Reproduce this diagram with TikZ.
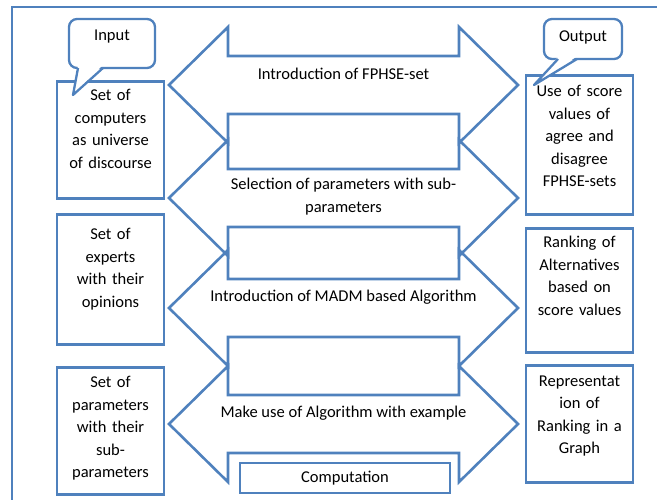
\documentclass[tikz,border=0pt]{standalone}
\usepackage{fontspec}
\setmainfont{Carlito}
\usetikzlibrary{positioning}
\definecolor{frameblue}{HTML}{4F81BD}

\begin{document}
\begin{tikzpicture}[x=1pt,y=-1pt,
    every node/.style={font=\fontsize{16.5pt}{22.5pt}\selectfont},
    outline/.style={draw=frameblue,line width=2.6pt,line join=miter},
    box/.style={outline,minimum width=107pt,anchor=north,inner sep=0pt},
    boxtext/.style={text width=106pt,align=center,anchor=base,inner sep=0pt},
    steptext/.style={align=center,inner sep=0pt},
    tagbox/.style={outline,fill=white,rounded corners=8pt,line width=2.3pt},
    tagline/.style={draw=frameblue,line width=2.3pt,line join=round}]
\useasboundingbox (0,0) rectangle (657,500);
\clip (0,0) rectangle (657,500);
\draw[frameblue,line width=2pt] (12,7) rectangle (700,560);

% double arrows
\foreach \tip in {85,198,308,424}
    \draw[outline] (169,\tip) -- (228,{\tip-58}) -- (228,{\tip-29}) -- (459,{\tip-29})
        -- (459,{\tip-58}) -- (518,\tip) -- (459,{\tip+58}) -- (459,{\tip+29})
        -- (228,{\tip+29}) -- (228,{\tip+58}) -- cycle;

\node[steptext] (step1) at (343.5,74) {Introduction of FPHSE-set};
\node[steptext] (step2) at (343.5,196.5) {Selection of parameters with sub-\\parameters};
\node[steptext] (step3) at (343.5,297) {Introduction of MADM based Algorithm};
\node[steptext] (step4) at (343.5,413) {Make use of Algorithm with example};
\node[outline,fill=white,minimum width=210pt,minimum height=30pt] (comp) at (345,478) {Computation};

% input boxes
\node[box,minimum height=117pt] (in1) at (110.5,80) {};
\node[box,minimum height=130pt] (in2) at (110.5,213) {};
\node[box,minimum height=127pt] (in3) at (110.5,366) {};
\node[boxtext] (in1txt) at ([yshift=-21pt]in1.north) {Set of\\computers\\as universe\\of discourse};
\node[boxtext] (in2txt) at ([yshift=-27pt]in2.north) {Set of\\experts\\with their\\opinions};
\node[boxtext] (in3txt) at ([yshift=-22pt]in3.north) {Set of\\parameters\\with their\\sub-\\parameters};

% output boxes
\node[box,minimum height=139pt] (out1) at (579.5,74) {};
\node[box,minimum height=124pt] (out2) at (579.5,227) {};
\node[box,minimum height=117pt] (out3) at (579.5,364) {};
\node[boxtext] (out1txt) at ([yshift=-23pt]out1.north) {Use of score\\values of\\agree and\\disagree\\FPHSE-sets};
\node[boxtext] (out2txt) at ([yshift=-21pt]out2.north) {Ranking of\\Alternatives\\based on\\score values};
\node[boxtext] (out3txt) at ([yshift=-22pt]out3.north) {Representat\\ion of\\Ranking in a\\Graph};

% callouts
\node[tagbox,minimum width=86pt,minimum height=49pt] (intag) at (112,43.5) {};
\node (intagtxt) at (112,37) {Input};
\fill[white] (78,66) -- (73,95) -- (102,66) -- cycle;
\draw[tagline] (78,68) -- (73,95) -- (103,68);
\node[tagbox,minimum width=78pt,minimum height=40pt] (outtag) at (583,39) {};
\node (outtagtxt) at (583,37) {Output};
\fill[white] (558,57) -- (534,85) -- (576,57) -- cycle;
\draw[tagline] (558,59) -- (534,85) -- (577,59);
\end{tikzpicture}
\end{document}
